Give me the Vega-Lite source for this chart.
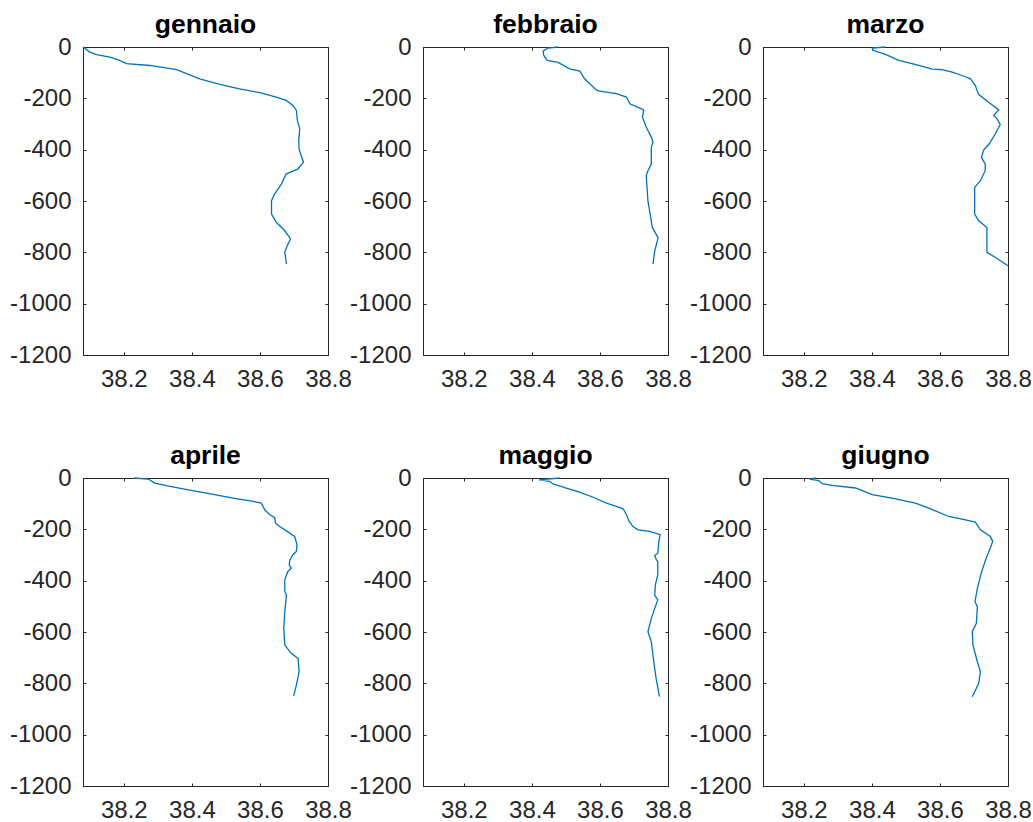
{
  "$schema": "https://vega.github.io/schema/vega-lite/v6.json",
  "background": "white",
  "padding": {"left": 9, "top": 11, "right": 0, "bottom": 0},
  "autosize": {"type": "pad"},
  "datasets": {
    "profili": [
      {"mese": "gennaio", "profondita": 0, "salinita": 38.08},
      {"mese": "gennaio", "profondita": -20, "salinita": 38.1},
      {"mese": "gennaio", "profondita": -30, "salinita": 38.12},
      {"mese": "gennaio", "profondita": -39, "salinita": 38.159},
      {"mese": "gennaio", "profondita": -50, "salinita": 38.184},
      {"mese": "gennaio", "profondita": -62, "salinita": 38.203},
      {"mese": "gennaio", "profondita": -65, "salinita": 38.208},
      {"mese": "gennaio", "profondita": -72, "salinita": 38.277},
      {"mese": "gennaio", "profondita": -88, "salinita": 38.355},
      {"mese": "gennaio", "profondita": -124, "salinita": 38.423},
      {"mese": "gennaio", "profondita": -146, "salinita": 38.482},
      {"mese": "gennaio", "profondita": -163, "salinita": 38.54},
      {"mese": "gennaio", "profondita": -178, "salinita": 38.6},
      {"mese": "gennaio", "profondita": -195, "salinita": 38.648},
      {"mese": "gennaio", "profondita": -208, "salinita": 38.677},
      {"mese": "gennaio", "profondita": -228, "salinita": 38.697},
      {"mese": "gennaio", "profondita": -247, "salinita": 38.707},
      {"mese": "gennaio", "profondita": -286, "salinita": 38.71},
      {"mese": "gennaio", "profondita": -319, "salinita": 38.717},
      {"mese": "gennaio", "profondita": -364, "salinita": 38.714},
      {"mese": "gennaio", "profondita": -397, "salinita": 38.715},
      {"mese": "gennaio", "profondita": -423, "salinita": 38.721},
      {"mese": "gennaio", "profondita": -449, "salinita": 38.728},
      {"mese": "gennaio", "profondita": -475, "salinita": 38.712},
      {"mese": "gennaio", "profondita": -495, "salinita": 38.677},
      {"mese": "gennaio", "profondita": -534, "salinita": 38.663},
      {"mese": "gennaio", "profondita": -573, "salinita": 38.643},
      {"mese": "gennaio", "profondita": -599, "salinita": 38.634},
      {"mese": "gennaio", "profondita": -651, "salinita": 38.634},
      {"mese": "gennaio", "profondita": -683, "salinita": 38.648},
      {"mese": "gennaio", "profondita": -716, "salinita": 38.673},
      {"mese": "gennaio", "profondita": -748, "salinita": 38.69},
      {"mese": "gennaio", "profondita": -774, "salinita": 38.68},
      {"mese": "gennaio", "profondita": -800, "salinita": 38.673},
      {"mese": "gennaio", "profondita": -846, "salinita": 38.678},

      {"mese": "febbraio", "profondita": 0, "salinita": 38.477},
      {"mese": "febbraio", "profondita": -4, "salinita": 38.447},
      {"mese": "febbraio", "profondita": -16, "salinita": 38.433},
      {"mese": "febbraio", "profondita": -33, "salinita": 38.435},
      {"mese": "febbraio", "profondita": -52, "salinita": 38.445},
      {"mese": "febbraio", "profondita": -60, "salinita": 38.477},
      {"mese": "febbraio", "profondita": -85, "salinita": 38.511},
      {"mese": "febbraio", "profondita": -94, "salinita": 38.541},
      {"mese": "febbraio", "profondita": -124, "salinita": 38.555},
      {"mese": "febbraio", "profondita": -167, "salinita": 38.589},
      {"mese": "febbraio", "profondita": -172, "salinita": 38.599},
      {"mese": "febbraio", "profondita": -182, "salinita": 38.648},
      {"mese": "febbraio", "profondita": -195, "salinita": 38.678},
      {"mese": "febbraio", "profondita": -221, "salinita": 38.688},
      {"mese": "febbraio", "profondita": -241, "salinita": 38.722},
      {"mese": "febbraio", "profondita": -247, "salinita": 38.729},
      {"mese": "febbraio", "profondita": -273, "salinita": 38.725},
      {"mese": "febbraio", "profondita": -312, "salinita": 38.736},
      {"mese": "febbraio", "profondita": -351, "salinita": 38.751},
      {"mese": "febbraio", "profondita": -371, "salinita": 38.756},
      {"mese": "febbraio", "profondita": -390, "salinita": 38.751},
      {"mese": "febbraio", "profondita": -456, "salinita": 38.751},
      {"mese": "febbraio", "profondita": -482, "salinita": 38.741},
      {"mese": "febbraio", "profondita": -501, "salinita": 38.736},
      {"mese": "febbraio", "profondita": -599, "salinita": 38.741},
      {"mese": "febbraio", "profondita": -703, "salinita": 38.754},
      {"mese": "febbraio", "profondita": -744, "salinita": 38.771},
      {"mese": "febbraio", "profondita": -794, "salinita": 38.761},
      {"mese": "febbraio", "profondita": -846, "salinita": 38.756},

      {"mese": "marzo", "profondita": 0, "salinita": 38.44},
      {"mese": "marzo", "profondita": -4, "salinita": 38.401},
      {"mese": "marzo", "profondita": -13, "salinita": 38.403},
      {"mese": "marzo", "profondita": -29, "salinita": 38.44},
      {"mese": "marzo", "profondita": -52, "salinita": 38.479},
      {"mese": "marzo", "profondita": -65, "salinita": 38.518},
      {"mese": "marzo", "profondita": -78, "salinita": 38.557},
      {"mese": "marzo", "profondita": -86, "salinita": 38.577},
      {"mese": "marzo", "profondita": -88, "salinita": 38.606},
      {"mese": "marzo", "profondita": -98, "salinita": 38.636},
      {"mese": "marzo", "profondita": -111, "salinita": 38.665},
      {"mese": "marzo", "profondita": -124, "salinita": 38.69},
      {"mese": "marzo", "profondita": -150, "salinita": 38.704},
      {"mese": "marzo", "profondita": -169, "salinita": 38.709},
      {"mese": "marzo", "profondita": -185, "salinita": 38.714},
      {"mese": "marzo", "profondita": -215, "salinita": 38.743},
      {"mese": "marzo", "profondita": -245, "salinita": 38.773},
      {"mese": "marzo", "profondita": -267, "salinita": 38.758},
      {"mese": "marzo", "profondita": -280, "salinita": 38.768},
      {"mese": "marzo", "profondita": -302, "salinita": 38.777},
      {"mese": "marzo", "profondita": -338, "salinita": 38.763},
      {"mese": "marzo", "profondita": -377, "salinita": 38.745},
      {"mese": "marzo", "profondita": -403, "salinita": 38.728},
      {"mese": "marzo", "profondita": -430, "salinita": 38.722},
      {"mese": "marzo", "profondita": -456, "salinita": 38.733},
      {"mese": "marzo", "profondita": -482, "salinita": 38.733},
      {"mese": "marzo", "profondita": -521, "salinita": 38.719},
      {"mese": "marzo", "profondita": -547, "salinita": 38.702},
      {"mese": "marzo", "profondita": -599, "salinita": 38.702},
      {"mese": "marzo", "profondita": -651, "salinita": 38.702},
      {"mese": "marzo", "profondita": -677, "salinita": 38.714},
      {"mese": "marzo", "profondita": -703, "salinita": 38.738},
      {"mese": "marzo", "profondita": -742, "salinita": 38.738},
      {"mese": "marzo", "profondita": -800, "salinita": 38.738},
      {"mese": "marzo", "profondita": -820, "salinita": 38.763},
      {"mese": "marzo", "profondita": -852, "salinita": 38.8},

      {"mese": "aprile", "profondita": 0, "salinita": 38.231},
      {"mese": "aprile", "profondita": -4, "salinita": 38.272},
      {"mese": "aprile", "profondita": -20, "salinita": 38.291},
      {"mese": "aprile", "profondita": -30, "salinita": 38.325},
      {"mese": "aprile", "profondita": -42, "salinita": 38.374},
      {"mese": "aprile", "profondita": -59, "salinita": 38.443},
      {"mese": "aprile", "profondita": -78, "salinita": 38.521},
      {"mese": "aprile", "profondita": -91, "salinita": 38.58},
      {"mese": "aprile", "profondita": -98, "salinita": 38.604},
      {"mese": "aprile", "profondita": -124, "salinita": 38.614},
      {"mese": "aprile", "profondita": -143, "salinita": 38.629},
      {"mese": "aprile", "profondita": -154, "salinita": 38.643},
      {"mese": "aprile", "profondita": -176, "salinita": 38.646},
      {"mese": "aprile", "profondita": -189, "salinita": 38.658},
      {"mese": "aprile", "profondita": -208, "salinita": 38.68},
      {"mese": "aprile", "profondita": -228, "salinita": 38.702},
      {"mese": "aprile", "profondita": -260, "salinita": 38.709},
      {"mese": "aprile", "profondita": -286, "salinita": 38.707},
      {"mese": "aprile", "profondita": -299, "salinita": 38.697},
      {"mese": "aprile", "profondita": -319, "salinita": 38.688},
      {"mese": "aprile", "profondita": -338, "salinita": 38.686},
      {"mese": "aprile", "profondita": -351, "salinita": 38.692},
      {"mese": "aprile", "profondita": -364, "salinita": 38.682},
      {"mese": "aprile", "profondita": -397, "salinita": 38.673},
      {"mese": "aprile", "profondita": -443, "salinita": 38.673},
      {"mese": "aprile", "profondita": -456, "salinita": 38.678},
      {"mese": "aprile", "profondita": -521, "salinita": 38.673},
      {"mese": "aprile", "profondita": -586, "salinita": 38.67},
      {"mese": "aprile", "profondita": -651, "salinita": 38.673},
      {"mese": "aprile", "profondita": -683, "salinita": 38.692},
      {"mese": "aprile", "profondita": -703, "salinita": 38.712},
      {"mese": "aprile", "profondita": -755, "salinita": 38.715},
      {"mese": "aprile", "profondita": -807, "salinita": 38.707},
      {"mese": "aprile", "profondita": -849, "salinita": 38.699},

      {"mese": "maggio", "profondita": 0, "salinita": 38.482},
      {"mese": "maggio", "profondita": -7, "salinita": 38.421},
      {"mese": "maggio", "profondita": -13, "salinita": 38.452},
      {"mese": "maggio", "profondita": -23, "salinita": 38.462},
      {"mese": "maggio", "profondita": -39, "salinita": 38.501},
      {"mese": "maggio", "profondita": -55, "salinita": 38.54},
      {"mese": "maggio", "profondita": -75, "salinita": 38.58},
      {"mese": "maggio", "profondita": -98, "salinita": 38.619},
      {"mese": "maggio", "profondita": -111, "salinita": 38.648},
      {"mese": "maggio", "profondita": -120, "salinita": 38.668},
      {"mese": "maggio", "profondita": -143, "salinita": 38.678},
      {"mese": "maggio", "profondita": -169, "salinita": 38.686},
      {"mese": "maggio", "profondita": -189, "salinita": 38.697},
      {"mese": "maggio", "profondita": -202, "salinita": 38.712},
      {"mese": "maggio", "profondita": -208, "salinita": 38.746},
      {"mese": "maggio", "profondita": -221, "salinita": 38.777},
      {"mese": "maggio", "profondita": -247, "salinita": 38.773},
      {"mese": "maggio", "profondita": -293, "salinita": 38.77},
      {"mese": "maggio", "profondita": -302, "salinita": 38.761},
      {"mese": "maggio", "profondita": -319, "salinita": 38.766},
      {"mese": "maggio", "profondita": -325, "salinita": 38.77},
      {"mese": "maggio", "profondita": -377, "salinita": 38.77},
      {"mese": "maggio", "profondita": -416, "salinita": 38.763},
      {"mese": "maggio", "profondita": -456, "salinita": 38.761},
      {"mese": "maggio", "profondita": -475, "salinita": 38.77},
      {"mese": "maggio", "profondita": -508, "salinita": 38.761},
      {"mese": "maggio", "profondita": -547, "salinita": 38.751},
      {"mese": "maggio", "profondita": -599, "salinita": 38.741},
      {"mese": "maggio", "profondita": -638, "salinita": 38.751},
      {"mese": "maggio", "profondita": -703, "salinita": 38.757},
      {"mese": "maggio", "profondita": -781, "salinita": 38.765},
      {"mese": "maggio", "profondita": -852, "salinita": 38.775},

      {"mese": "giugno", "profondita": 0, "salinita": 38.235},
      {"mese": "giugno", "profondita": -4, "salinita": 38.217},
      {"mese": "giugno", "profondita": -10, "salinita": 38.244},
      {"mese": "giugno", "profondita": -22, "salinita": 38.254},
      {"mese": "giugno", "profondita": -29, "salinita": 38.283},
      {"mese": "giugno", "profondita": -39, "salinita": 38.352},
      {"mese": "giugno", "profondita": -65, "salinita": 38.401},
      {"mese": "giugno", "profondita": -78, "salinita": 38.459},
      {"mese": "giugno", "profondita": -98, "salinita": 38.528},
      {"mese": "giugno", "profondita": -117, "salinita": 38.567},
      {"mese": "giugno", "profondita": -150, "salinita": 38.626},
      {"mese": "giugno", "profondita": -163, "salinita": 38.675},
      {"mese": "giugno", "profondita": -172, "salinita": 38.704},
      {"mese": "giugno", "profondita": -202, "salinita": 38.719},
      {"mese": "giugno", "profondita": -228, "salinita": 38.748},
      {"mese": "giugno", "profondita": -247, "salinita": 38.755},
      {"mese": "giugno", "profondita": -273, "salinita": 38.748},
      {"mese": "giugno", "profondita": -319, "salinita": 38.734},
      {"mese": "giugno", "profondita": -377, "salinita": 38.72},
      {"mese": "giugno", "profondita": -430, "salinita": 38.71},
      {"mese": "giugno", "profondita": -482, "salinita": 38.703},
      {"mese": "giugno", "profondita": -501, "salinita": 38.71},
      {"mese": "giugno", "profondita": -566, "salinita": 38.707},
      {"mese": "giugno", "profondita": -599, "salinita": 38.695},
      {"mese": "giugno", "profondita": -651, "salinita": 38.697},
      {"mese": "giugno", "profondita": -716, "salinita": 38.71},
      {"mese": "giugno", "profondita": -755, "salinita": 38.719},
      {"mese": "giugno", "profondita": -800, "salinita": 38.714},
      {"mese": "giugno", "profondita": -852, "salinita": 38.695}
    ]
  },
  "data": {"name": "profili"},
  "columns": 3,
  "spacing": {"row": 123, "column": 95},
  "bounds": "flush",
  "concat": [
    {
      "title": "gennaio",
      "width": 245, "height": 308,
      "transform": [{"filter": "datum.mese === 'gennaio'"}],
      "layer": [
        {"mark": {"type": "line", "color": "#0072BD", "strokeWidth": 1.3},
         "encoding": {
           "x": {"field": "salinita", "type": "quantitative", "title": null, "scale": {"domain": [38.08, 38.8], "nice": false, "zero": false}, "axis": {"orient": "bottom", "values": [38.2, 38.4, 38.6, 38.8], "format": ".1f"}},
           "y": {"field": "profondita", "type": "quantitative", "title": null, "scale": {"domain": [-1200, 0], "nice": false, "zero": false}, "axis": {"orient": "left", "values": [-1200, -1000, -800, -600, -400, -200, 0], "labelExpr": "datum.value == 0 ? '0' : '-' + (-datum.value)"}},
           "order": {"field": "profondita", "sort": "descending"}
         }},
        {"mark": {"type": "line", "opacity": 0},
         "encoding": {
           "x": {"field": "salinita", "type": "quantitative", "title": null, "axis": {"orient": "top", "labels": false, "minExtent": 0, "maxExtent": 0, "values": [38.2, 38.4, 38.6, 38.8]}},
           "y": {"field": "profondita", "type": "quantitative", "title": null, "axis": {"orient": "right", "labels": false, "minExtent": 0, "maxExtent": 0, "values": [-1200, -1000, -800, -600, -400, -200, 0]}}
         }}
      ],
      "resolve": {"axis": {"x": "independent", "y": "independent"}}
    },
    {
      "title": "febbraio",
      "width": 245, "height": 308,
      "transform": [{"filter": "datum.mese === 'febbraio'"}],
      "layer": [
        {"mark": {"type": "line", "color": "#0072BD", "strokeWidth": 1.3},
         "encoding": {
           "x": {"field": "salinita", "type": "quantitative", "title": null, "scale": {"domain": [38.08, 38.8], "nice": false, "zero": false}, "axis": {"orient": "bottom", "values": [38.2, 38.4, 38.6, 38.8], "format": ".1f"}},
           "y": {"field": "profondita", "type": "quantitative", "title": null, "scale": {"domain": [-1200, 0], "nice": false, "zero": false}, "axis": {"orient": "left", "values": [-1200, -1000, -800, -600, -400, -200, 0], "labelExpr": "datum.value == 0 ? '0' : '-' + (-datum.value)"}},
           "order": {"field": "profondita", "sort": "descending"}
         }},
        {"mark": {"type": "line", "opacity": 0},
         "encoding": {
           "x": {"field": "salinita", "type": "quantitative", "title": null, "axis": {"orient": "top", "labels": false, "minExtent": 0, "maxExtent": 0, "values": [38.2, 38.4, 38.6, 38.8]}},
           "y": {"field": "profondita", "type": "quantitative", "title": null, "axis": {"orient": "right", "labels": false, "minExtent": 0, "maxExtent": 0, "values": [-1200, -1000, -800, -600, -400, -200, 0]}}
         }}
      ],
      "resolve": {"axis": {"x": "independent", "y": "independent"}}
    },
    {
      "title": "marzo",
      "width": 245, "height": 308,
      "transform": [{"filter": "datum.mese === 'marzo'"}],
      "layer": [
        {"mark": {"type": "line", "color": "#0072BD", "strokeWidth": 1.3},
         "encoding": {
           "x": {"field": "salinita", "type": "quantitative", "title": null, "scale": {"domain": [38.08, 38.8], "nice": false, "zero": false}, "axis": {"orient": "bottom", "values": [38.2, 38.4, 38.6, 38.8], "format": ".1f"}},
           "y": {"field": "profondita", "type": "quantitative", "title": null, "scale": {"domain": [-1200, 0], "nice": false, "zero": false}, "axis": {"orient": "left", "values": [-1200, -1000, -800, -600, -400, -200, 0], "labelExpr": "datum.value == 0 ? '0' : '-' + (-datum.value)"}},
           "order": {"field": "profondita", "sort": "descending"}
         }},
        {"mark": {"type": "line", "opacity": 0},
         "encoding": {
           "x": {"field": "salinita", "type": "quantitative", "title": null, "axis": {"orient": "top", "labels": false, "minExtent": 0, "maxExtent": 0, "values": [38.2, 38.4, 38.6, 38.8]}},
           "y": {"field": "profondita", "type": "quantitative", "title": null, "axis": {"orient": "right", "labels": false, "minExtent": 0, "maxExtent": 0, "values": [-1200, -1000, -800, -600, -400, -200, 0]}}
         }}
      ],
      "resolve": {"axis": {"x": "independent", "y": "independent"}}
    },
    {
      "title": "aprile",
      "width": 245, "height": 308,
      "transform": [{"filter": "datum.mese === 'aprile'"}],
      "layer": [
        {"mark": {"type": "line", "color": "#0072BD", "strokeWidth": 1.3},
         "encoding": {
           "x": {"field": "salinita", "type": "quantitative", "title": null, "scale": {"domain": [38.08, 38.8], "nice": false, "zero": false}, "axis": {"orient": "bottom", "values": [38.2, 38.4, 38.6, 38.8], "format": ".1f"}},
           "y": {"field": "profondita", "type": "quantitative", "title": null, "scale": {"domain": [-1200, 0], "nice": false, "zero": false}, "axis": {"orient": "left", "values": [-1200, -1000, -800, -600, -400, -200, 0], "labelExpr": "datum.value == 0 ? '0' : '-' + (-datum.value)"}},
           "order": {"field": "profondita", "sort": "descending"}
         }},
        {"mark": {"type": "line", "opacity": 0},
         "encoding": {
           "x": {"field": "salinita", "type": "quantitative", "title": null, "axis": {"orient": "top", "labels": false, "minExtent": 0, "maxExtent": 0, "values": [38.2, 38.4, 38.6, 38.8]}},
           "y": {"field": "profondita", "type": "quantitative", "title": null, "axis": {"orient": "right", "labels": false, "minExtent": 0, "maxExtent": 0, "values": [-1200, -1000, -800, -600, -400, -200, 0]}}
         }}
      ],
      "resolve": {"axis": {"x": "independent", "y": "independent"}}
    },
    {
      "title": "maggio",
      "width": 245, "height": 308,
      "transform": [{"filter": "datum.mese === 'maggio'"}],
      "layer": [
        {"mark": {"type": "line", "color": "#0072BD", "strokeWidth": 1.3},
         "encoding": {
           "x": {"field": "salinita", "type": "quantitative", "title": null, "scale": {"domain": [38.08, 38.8], "nice": false, "zero": false}, "axis": {"orient": "bottom", "values": [38.2, 38.4, 38.6, 38.8], "format": ".1f"}},
           "y": {"field": "profondita", "type": "quantitative", "title": null, "scale": {"domain": [-1200, 0], "nice": false, "zero": false}, "axis": {"orient": "left", "values": [-1200, -1000, -800, -600, -400, -200, 0], "labelExpr": "datum.value == 0 ? '0' : '-' + (-datum.value)"}},
           "order": {"field": "profondita", "sort": "descending"}
         }},
        {"mark": {"type": "line", "opacity": 0},
         "encoding": {
           "x": {"field": "salinita", "type": "quantitative", "title": null, "axis": {"orient": "top", "labels": false, "minExtent": 0, "maxExtent": 0, "values": [38.2, 38.4, 38.6, 38.8]}},
           "y": {"field": "profondita", "type": "quantitative", "title": null, "axis": {"orient": "right", "labels": false, "minExtent": 0, "maxExtent": 0, "values": [-1200, -1000, -800, -600, -400, -200, 0]}}
         }}
      ],
      "resolve": {"axis": {"x": "independent", "y": "independent"}}
    },
    {
      "title": "giugno",
      "width": 245, "height": 308,
      "transform": [{"filter": "datum.mese === 'giugno'"}],
      "layer": [
        {"mark": {"type": "line", "color": "#0072BD", "strokeWidth": 1.3},
         "encoding": {
           "x": {"field": "salinita", "type": "quantitative", "title": null, "scale": {"domain": [38.08, 38.8], "nice": false, "zero": false}, "axis": {"orient": "bottom", "values": [38.2, 38.4, 38.6, 38.8], "format": ".1f"}},
           "y": {"field": "profondita", "type": "quantitative", "title": null, "scale": {"domain": [-1200, 0], "nice": false, "zero": false}, "axis": {"orient": "left", "values": [-1200, -1000, -800, -600, -400, -200, 0], "labelExpr": "datum.value == 0 ? '0' : '-' + (-datum.value)"}},
           "order": {"field": "profondita", "sort": "descending"}
         }},
        {"mark": {"type": "line", "opacity": 0},
         "encoding": {
           "x": {"field": "salinita", "type": "quantitative", "title": null, "axis": {"orient": "top", "labels": false, "minExtent": 0, "maxExtent": 0, "values": [38.2, 38.4, 38.6, 38.8]}},
           "y": {"field": "profondita", "type": "quantitative", "title": null, "axis": {"orient": "right", "labels": false, "minExtent": 0, "maxExtent": 0, "values": [-1200, -1000, -800, -600, -400, -200, 0]}}
         }}
      ],
      "resolve": {"axis": {"x": "independent", "y": "independent"}}
    }
  ],
  "config": {
    "view": {"stroke": "#262626", "strokeWidth": 1},
    "axis": {
      "grid": false,
      "domainColor": "#262626",
      "domainWidth": 1,
      "tickColor": "#262626",
      "tickSize": -3,
      "tickWidth": 1,
      "labelFont": "Liberation Sans",
      "labelFontSize": 24,
      "labelColor": "#262626",
      "labelFlush": false,
      "labelOverlap": false
    },
    "axisX": {"labelPadding": 15},
    "axisY": {"labelPadding": 15},
    "title": {
      "font": "Liberation Sans",
      "fontSize": 26.5,
      "fontWeight": "bold",
      "color": "#000000",
      "anchor": "middle",
      "baseline": "alphabetic",
      "offset": -3.5
    }
  }
}
